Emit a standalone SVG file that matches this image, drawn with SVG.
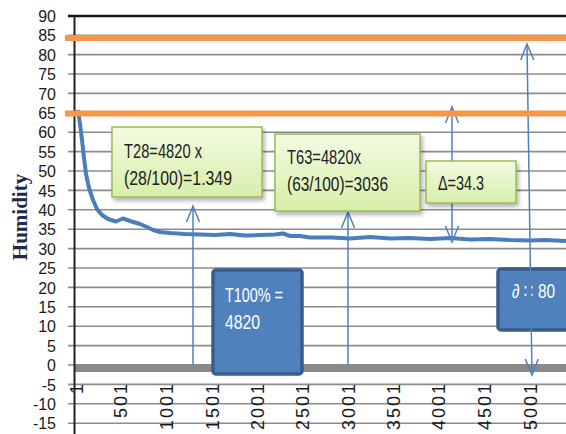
<svg xmlns="http://www.w3.org/2000/svg" width="566" height="434" viewBox="0 0 566 434">
<style>
.grid{stroke:#8c8c8c;stroke-width:1.6;fill:none}
.ylab{font-family:"Liberation Sans",Arial,sans-serif;font-size:16px;fill:#1a1a1a;text-anchor:end}
.xlab{font-family:"Liberation Sans",Arial,sans-serif;font-size:18px;fill:#1a1a1a;text-anchor:end;letter-spacing:2px}
.gbox{fill:url(#gg);stroke:#9bbb59;stroke-width:1.5;filter:url(#sh)}
.bbox{fill:#4f81bd;stroke:#385d8a;stroke-width:3.5}
.gtxt{font-family:"Liberation Sans",Arial,sans-serif;font-size:19.5px;fill:#222}
.btxt{font-family:"Liberation Sans","DejaVu Sans",Arial,sans-serif;font-size:19.5px;fill:#ffffff}
.arr{stroke:#4f81bd;stroke-width:1.5;fill:none}
.orange{stroke:#f79646;stroke-width:6}
</style>
<defs>
<linearGradient id="gg" x1="0" y1="0" x2="0" y2="1">
<stop offset="0" stop-color="#f3fbe2"/>
<stop offset="1" stop-color="#d6efaa"/>
</linearGradient>
<filter id="sh" x="-10%" y="-10%" width="130%" height="140%">
<feDropShadow dx="2" dy="3" stdDeviation="2" flood-color="#000" flood-opacity="0.3"/>
</filter>
<marker id="ah" markerUnits="userSpaceOnUse" orient="auto-start-reverse" overflow="visible" markerWidth="20" markerHeight="20" refX="0" refY="0">
<path d="M-16,-6.5 L0,0 L-16,6.5" fill="none" stroke="#4f81bd" stroke-width="1.5"/>
</marker>
</defs>
<rect width="566" height="434" fill="#ffffff"/>

<g id="gridlines">
<line class="grid" x1="68" y1="35.2" x2="566" y2="35.2"/>
<line class="grid" x1="68" y1="54.6" x2="566" y2="54.6"/>
<line class="grid" x1="68" y1="74" x2="566" y2="74"/>
<line class="grid" x1="68" y1="93.4" x2="566" y2="93.4"/>
<line class="grid" x1="68" y1="112.8" x2="566" y2="112.8"/>
<line class="grid" x1="68" y1="132.2" x2="566" y2="132.2"/>
<line class="grid" x1="68" y1="151.6" x2="566" y2="151.6"/>
<line class="grid" x1="68" y1="171" x2="566" y2="171"/>
<line class="grid" x1="68" y1="190.4" x2="566" y2="190.4"/>
<line class="grid" x1="68" y1="209.8" x2="566" y2="209.8"/>
<line class="grid" x1="68" y1="229.2" x2="566" y2="229.2"/>
<line class="grid" x1="68" y1="248.6" x2="566" y2="248.6"/>
<line class="grid" x1="68" y1="268" x2="566" y2="268"/>
<line class="grid" x1="68" y1="287.4" x2="566" y2="287.4"/>
<line class="grid" x1="68" y1="306.8" x2="566" y2="306.8"/>
<line class="grid" x1="68" y1="326.2" x2="566" y2="326.2"/>
<line class="grid" x1="68" y1="345.6" x2="566" y2="345.6"/>
<line class="grid" x1="68" y1="365" x2="566" y2="365"/>
<line class="grid" x1="68" y1="384.4" x2="566" y2="384.4"/>
<line class="grid" x1="68" y1="403.8" x2="566" y2="403.8"/>
<line class="grid" x1="68" y1="423.2" x2="566" y2="423.2"/>
</g>
<rect x="74" y="364" width="492" height="8" fill="#8a8a8a"/>
<line x1="68" y1="16" x2="566" y2="16" stroke="#111" stroke-width="2.5"/>
<line x1="74.5" y1="15" x2="74.5" y2="434" stroke="#222" stroke-width="2"/>

<g id="ylabels">
<text class="ylab" x="56" y="22">90</text>
<text class="ylab" x="56" y="41.4">85</text>
<text class="ylab" x="56" y="60.8">80</text>
<text class="ylab" x="56" y="80.2">75</text>
<text class="ylab" x="56" y="99.6">70</text>
<text class="ylab" x="56" y="119">65</text>
<text class="ylab" x="56" y="138.4">60</text>
<text class="ylab" x="56" y="157.8">55</text>
<text class="ylab" x="56" y="177.2">50</text>
<text class="ylab" x="56" y="196.6">45</text>
<text class="ylab" x="56" y="216">40</text>
<text class="ylab" x="56" y="235.4">35</text>
<text class="ylab" x="56" y="254.8">30</text>
<text class="ylab" x="56" y="274.2">25</text>
<text class="ylab" x="56" y="293.6">20</text>
<text class="ylab" x="56" y="313">15</text>
<text class="ylab" x="56" y="332.4">10</text>
<text class="ylab" x="56" y="351.8">5</text>
<text class="ylab" x="56" y="371.2">0</text>
<text class="ylab" x="56" y="390.6">-5</text>
<text class="ylab" x="56" y="410">-10</text>
<text class="ylab" x="56" y="429.4">-15</text>
</g>
<text transform="translate(27,217) rotate(-90)" text-anchor="middle" font-family="'Liberation Serif','Times New Roman',serif" font-weight="bold" font-size="21" fill="#1f2a4a">Humidity</text>

<g id="xlabels">
<text class="xlab" transform="translate(83,382) rotate(-90)">1</text>
<text class="xlab" transform="translate(127,382) rotate(-90)">501</text>
<text class="xlab" transform="translate(173,382) rotate(-90)">1001</text>
<text class="xlab" transform="translate(219,382) rotate(-90)">1501</text>
<text class="xlab" transform="translate(264,382) rotate(-90)">2001</text>
<text class="xlab" transform="translate(309,382) rotate(-90)">2501</text>
<text class="xlab" transform="translate(355,382) rotate(-90)">3001</text>
<text class="xlab" transform="translate(400,382) rotate(-90)">3501</text>
<text class="xlab" transform="translate(445,382) rotate(-90)">4001</text>
<text class="xlab" transform="translate(491,382) rotate(-90)">4501</text>
<text class="xlab" transform="translate(537,382) rotate(-90)">5001</text>
</g>

<polyline id="curve" fill="none" stroke="#4a7ebb" stroke-width="4" stroke-linejoin="round" points="78,110 80,124 82,140 84,158 86,174 89,188 93,200 97,209 102,215 108,219 116,221.5 123,218.5 130,221 140,224 147,227 153,230 160,232 170,233 185,234 200,234.5 215,235 230,234 245,235.5 260,235 275,234.5 283,233.5 290,236 300,236 310,237.5 332,237.5 350,238.5 370,237 390,238.5 410,238 430,239 450,238 470,239.5 490,239 510,240 530,240.5 545,240 566,241"/>

<g id="node-d">
<rect class="bbox" x="498" y="269" width="72" height="61" rx="3"/>
<text class="btxt" x="512" y="298" textLength="43" lengthAdjust="spacingAndGlyphs">∂ ∷ 80</text>
</g>

<g id="connectors">
<line class="arr" x1="193" y1="365" x2="193" y2="206" marker-end="url(#ah)"/>
<line class="arr" x1="348" y1="365" x2="348" y2="212" marker-end="url(#ah)"/>
<line class="arr" x1="452" y1="107" x2="452" y2="242" marker-start="url(#ah)" marker-end="url(#ah)"/>
<line class="arr" x1="527" y1="44" x2="532" y2="375" marker-start="url(#ah)" marker-end="url(#ah)"/>
</g>

<g id="node-t28">
<rect class="gbox" x="112" y="127" width="150" height="70"/>
<text class="gtxt" x="124" y="158" textLength="78" lengthAdjust="spacingAndGlyphs">T28=4820 x</text>
<text class="gtxt" x="124" y="185" textLength="108" lengthAdjust="spacingAndGlyphs">(28/100)=1.349</text>
</g>
<g id="node-t63">
<rect class="gbox" x="275" y="134" width="145" height="77"/>
<text class="gtxt" x="287" y="164" textLength="74" lengthAdjust="spacingAndGlyphs">T63=4820x</text>
<text class="gtxt" x="287" y="191" textLength="101" lengthAdjust="spacingAndGlyphs">(63/100)=3036</text>
</g>
<g id="node-delta">
<rect class="gbox" x="426" y="161" width="90" height="42"/>
<text class="gtxt" x="438" y="190" textLength="46" lengthAdjust="spacingAndGlyphs">Δ=34.3</text>
</g>
<g id="node-t100">
<rect class="bbox" x="213" y="270" width="89" height="104" rx="3"/>
<text class="btxt" x="225" y="302" textLength="58" lengthAdjust="spacingAndGlyphs">T100% =</text>
<text class="btxt" x="225" y="329" textLength="35" lengthAdjust="spacingAndGlyphs">4820</text>
</g>

<g id="limits">
<line class="orange" x1="65" y1="38" x2="566" y2="38"/>
<line class="orange" x1="65" y1="113.5" x2="566" y2="113.5"/>
</g>
</svg>
